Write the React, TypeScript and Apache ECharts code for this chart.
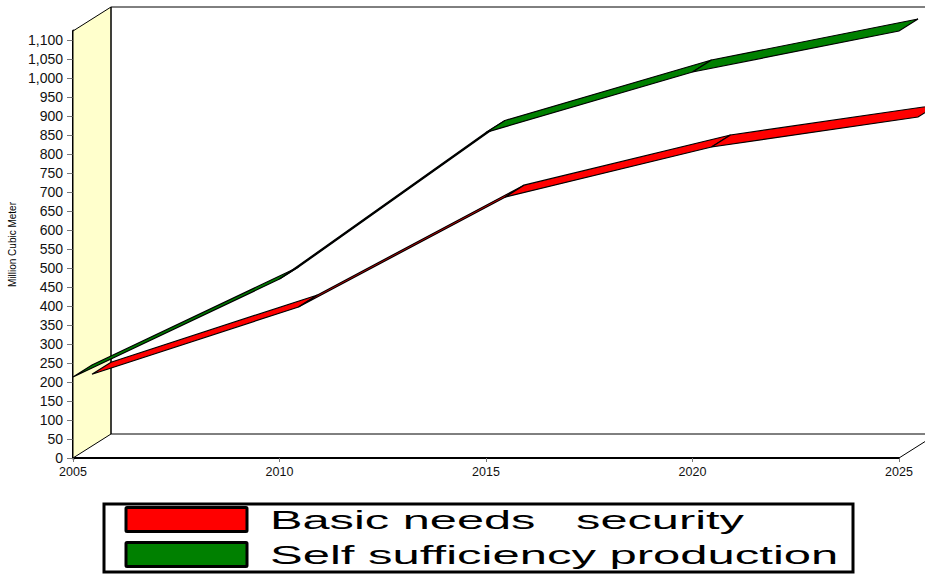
import React, { useEffect, useRef } from "react";
import * as echarts from "echarts";

const years = [2005, 2010, 2015, 2020, 2025];
const basicNeeds = [189, 366, 655, 787, 866];
const selfSufficiency = [213, 471, 857, 1016, 1124];
const yTicks = [0, 50, 100, 150, 200, 250, 300, 350, 400, 450, 500, 550, 600, 650, 700, 750, 800, 850, 900, 950, 1000, 1050, 1100];
const seriesNames = ["Basic needs   security", "Self sufficiency production"];

const DX = 38;
const DY = -24;
const Y_MAX = 1124;

function ribbon(values: number[], color: string, d0: number, d1: number, name: string, z: number) {
  return {
    type: "custom",
    name,
    z,
    clip: false,
    silent: true,
    coordinateSystem: "cartesian2d",
    data: values.slice(0, -1).map((v, i) => [years[i], v, years[i + 1], values[i + 1]]),
    encode: { x: 0, y: 1 },
    renderItem(_: any, api: any) {
      const a = api.coord([api.value(0), api.value(1)]);
      const b = api.coord([api.value(2), api.value(3)]);
      return {
        type: "polygon",
        shape: {
          points: [
            [a[0] + DX * d0, a[1] + DY * d0],
            [b[0] + DX * d0, b[1] + DY * d0],
            [b[0] + DX * d1, b[1] + DY * d1],
            [a[0] + DX * d1, a[1] + DY * d1],
          ],
        },
        style: { fill: color, stroke: "#000", lineWidth: 1.2 },
      };
    },
  };
}

function frame() {
  return {
    type: "custom",
    name: "frame",
    z: 1,
    clip: false,
    silent: true,
    coordinateSystem: "cartesian2d",
    data: [[years[0], 0, years[years.length - 1], Y_MAX]],
    encode: { x: 0, y: 1 },
    renderItem(_: any, api: any) {
      const bl = api.coord([api.value(0), 0]);
      const br = api.coord([api.value(2), 0]);
      const tl = api.coord([api.value(0), api.value(3)]);
      const line = (x1: number, y1: number, x2: number, y2: number) => ({
        type: "line",
        shape: { x1, y1, x2, y2 },
        style: { stroke: "#000", lineWidth: 1 },
      });
      return {
        type: "group",
        children: [
          {
            type: "polygon",
            shape: {
              points: [
                [bl[0], bl[1]],
                [bl[0] + DX, bl[1] + DY],
                [tl[0] + DX, tl[1] + DY],
                [tl[0], tl[1]],
              ],
            },
            style: { fill: "#FFFFCC", stroke: "#000", lineWidth: 1 },
          },
          line(bl[0] + DX, bl[1] + DY, br[0] + DX, br[1] + DY),
          line(tl[0] + DX, tl[1] + DY, br[0] + DX, tl[1] + DY),
          line(br[0], br[1], br[0] + DX, br[1] + DY),
          line(bl[0] + DX, tl[1] + DY, bl[0] + DX, bl[1] + DY),
        ],
      };
    },
  };
}

export default function App() {
  const ref = useRef<HTMLDivElement>(null);
  useEffect(() => {
    const chart = echarts.init(ref.current!, null, { renderer: "svg" });
    const swatch = (y: number, fill: string) => ({
      type: "rect",
      shape: { x: 126, y, width: 121, height: 24, r: 1 },
      style: { fill, stroke: "#000", lineWidth: 3 },
      z: 11,
    });
    const label = (y: number, text: string, scaleX: number) => ({
      type: "text",
      x: 270,
      y,
      scaleX,
      z: 11,
      style: {
        text,
        font: '400 26px "Liberation Sans"',
        fill: "#000",
        textVerticalAlign: "middle",
      },
    });
    chart.setOption({
      animation: false,
      backgroundColor: "#fff",
      grid: { left: 73, right: 26, top: 31, bottom: 117, outerBoundsMode: "none" },
      xAxis: {
        type: "value",
        min: 2005,
        max: 2025,
        interval: 5,
        splitLine: { show: false },
        axisLine: { show: true, lineStyle: { color: "#000", width: 2 } },
        axisTick: { show: true, length: 4, lineStyle: { color: "#777", width: 1 } },
        axisLabel: { fontFamily: "Liberation Sans", fontSize: 12.5, color: "#111", margin: 7, showMinLabel: true, showMaxLabel: true, formatter: (v: number) => String(v) },
      },
      yAxis: {
        type: "value",
        min: 0,
        max: Y_MAX,
        name: "Million Cubic Meter",
        nameLocation: "middle",
        nameRotate: 90,
        nameGap: 54,
        nameTextStyle: { fontFamily: "Liberation Sans", fontSize: 10, color: "#000" },
        splitLine: { show: false },
        axisLine: { show: true, lineStyle: { color: "#000", width: 3 } },
        axisTick: { show: true, length: 6, customValues: yTicks, lineStyle: { color: "#777", width: 1 } },
        axisLabel: {
          fontFamily: "Liberation Sans",
          fontSize: 14,
          color: "#111",
          margin: 10,
          customValues: yTicks,
          formatter: (v: number) => v.toLocaleString("en-US"),
        },
      },
      series: [
        frame(),
        ribbon(basicNeeds, "#FF0000", 0.5, 1, seriesNames[0], 3),
        ribbon(selfSufficiency, "#008000", 0, 0.5, seriesNames[1], 4),
      ],
      graphic: [
        {
          type: "rect",
          shape: { x: 104, y: 504, width: 749, height: 68 },
          style: { fill: "#fff", stroke: "#000", lineWidth: 3 },
          z: 10,
        },
        swatch(507.5, "#FF0000"),
        swatch(542.5, "#008000"),
        label(520, seriesNames[0], 1.875),
        label(555, seriesNames[1], 1.885),
      ],
    });
    return () => chart.dispose();
  }, []);
  return <div ref={ref} style={{ position: "absolute", left: 0, top: 0, width: 925, height: 575 }} />;
}
